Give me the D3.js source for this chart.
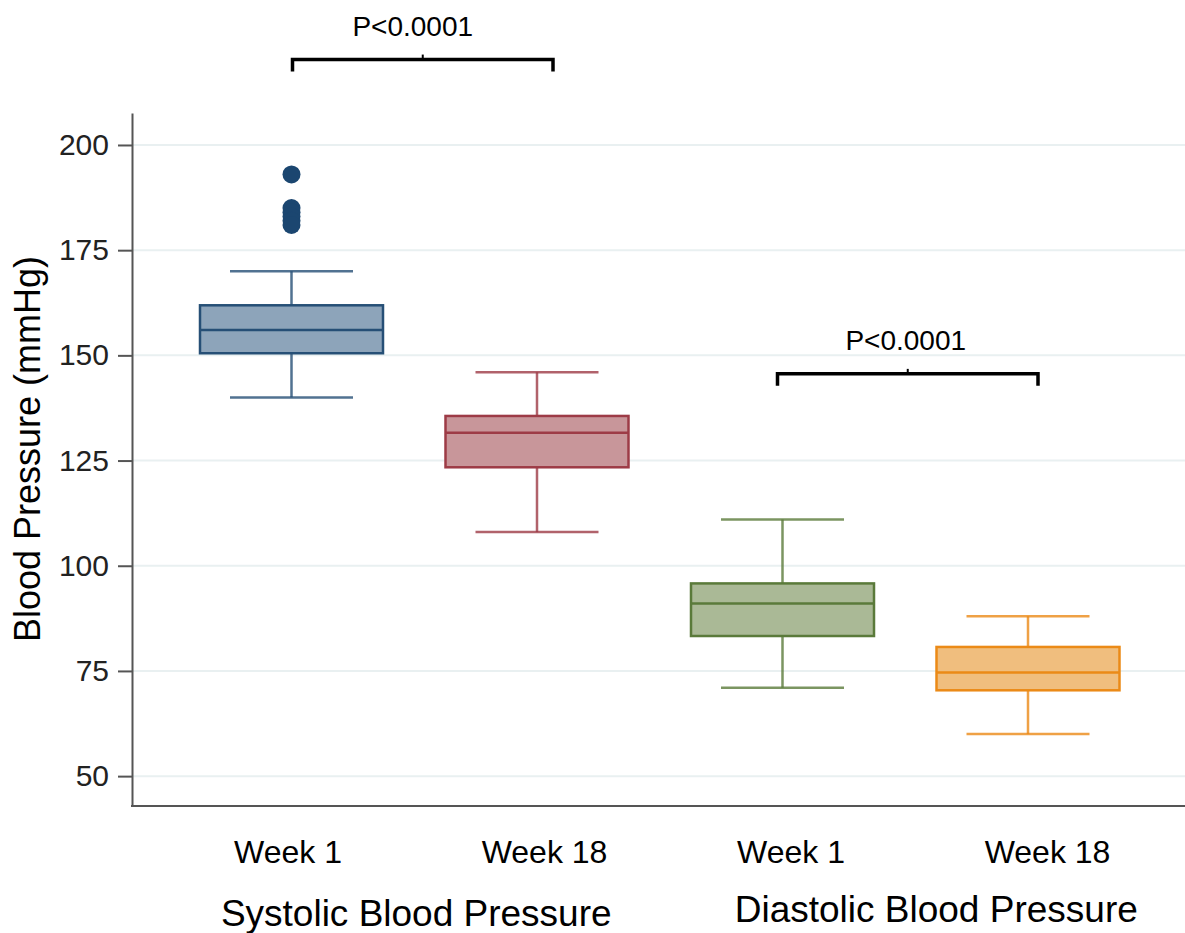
<!DOCTYPE html>
<html>
<head>
<meta charset="utf-8">
<script src="https://cdn.jsdelivr.net/npm/d3@7"></script>
<style>
  html, body { margin: 0; padding: 0; background: #fff; }
  svg { display: block; font-family: "Liberation Sans", Arial, sans-serif; }
</style>
</head>
<body>
<svg id="chart" width="1185" height="933"></svg>
<script>
// ---- data ----
const categories = ["SBP Week 1", "SBP Week 18", "DBP Week 1", "DBP Week 18"];
const tickLabels = ["Week 1", "Week 18", "Week 1", "Week 18"];
const groups = ["Systolic Blood Pressure", "Diastolic Blood Pressure"];
const whiskerLow = [140, 108, 71, 60];
const q1 = [150.5, 123.4, 83.3, 70.4];
const median = [156, 131.6, 91, 74.6];
const q3 = [161.9, 135.6, 95.8, 80.7];
const whiskerHigh = [170, 146, 111, 88];
const outliers = [[193, 185, 184, 183, 182, 181], [], [], []];
const yTicks = [50, 75, 100, 125, 150, 175, 200];
const comparisons = [
  { from: 0, to: 1, label: "P<0.0001", level: 220.3 },
  { from: 2, to: 3, label: "P<0.0001", level: 145.6 }
];

// ---- style ----
const fills = ["#8da4ba", "#c8969a", "#aab996", "#f0be7e"];
const strokes = ["#264f76", "#9d3b46", "#5a7a3a", "#eb8a17"];
const outlierColor = "#1b4670";

const svg = d3.select("#chart");
const W = 1185;
const plotLeft = 132, plotBottom = 806, plotTop = 113;

const y = d3.scaleLinear().domain([42.9, 207.6]).range([plotBottom, plotTop]);
const x = d3.scalePoint().domain(categories).range([291.5, 1028]);
const boxW = 183, capW = 123;

// gridlines
svg.append("g").selectAll("line").data(yTicks).join("line")
  .attr("x1", plotLeft).attr("x2", W)
  .attr("y1", d => y(d)).attr("y2", d => y(d))
  .attr("stroke", "#e9f0f1").attr("stroke-width", 2);

// y axis
const yAxis = svg.append("g").attr("transform", `translate(${plotLeft},0)`)
  .call(d3.axisLeft(y).tickValues(yTicks).tickSize(14).tickPadding(9).tickSizeOuter(0));
yAxis.select(".domain").attr("stroke", "#555").attr("stroke-width", 2);
yAxis.selectAll(".tick line").attr("stroke", "#555").attr("stroke-width", 2);
yAxis.selectAll(".tick text").attr("font-size", 30).attr("fill", "#222")
  .attr("font-family", "Liberation Sans, Arial, sans-serif");

// x axis baseline
svg.append("line").attr("x1", plotLeft - 1).attr("x2", W)
  .attr("y1", plotBottom).attr("y2", plotBottom)
  .attr("stroke", "#555").attr("stroke-width", 2);

// x tick labels via axis
const labelShift = [-4, 7, 8, 19];
const xAxis = svg.append("g").attr("transform", `translate(0,${plotBottom})`)
  .call(d3.axisBottom(x).tickSize(0).tickFormat((d, i) => tickLabels[i]));
xAxis.select(".domain").remove();
xAxis.selectAll(".tick text")
  .attr("font-size", 32).attr("fill", "#000")
  .attr("font-family", "Liberation Sans, Arial, sans-serif")
  .attr("dy", null).attr("y", 57)
  .attr("x", (d, i) => labelShift[i]);

// group labels
const groupCenters = [
  (x(categories[0]) + x(categories[1])) / 2 + 2,
  (x(categories[2]) + x(categories[3])) / 2 + 31
];
const groupBase = [926, 922];
svg.append("g").selectAll("text").data(groups).join("text")
  .attr("x", (d, i) => groupCenters[i]).attr("y", (d, i) => groupBase[i])
  .attr("text-anchor", "middle").attr("font-size", 37).attr("fill", "#000")
  .text(d => d);

// y axis title
svg.append("text")
  .attr("transform", `translate(40,449) rotate(-90)`)
  .attr("text-anchor", "middle").attr("font-size", 36).attr("fill", "#000")
  .text("Blood Pressure (mmHg)");

// boxes
const boxes = svg.append("g").selectAll("g").data(categories).join("g");
boxes.each(function(c, i) {
  const g = d3.select(this);
  const cx = x(c);
  // whiskers
  g.append("line").attr("x1", cx).attr("x2", cx)
    .attr("y1", y(whiskerHigh[i])).attr("y2", y(q3[i]))
    .attr("stroke", strokes[i]).attr("stroke-width", 2.5).attr("stroke-opacity", 0.8);
  g.append("line").attr("x1", cx).attr("x2", cx)
    .attr("y1", y(q1[i])).attr("y2", y(whiskerLow[i]))
    .attr("stroke", strokes[i]).attr("stroke-width", 2.5).attr("stroke-opacity", 0.8);
  g.append("line").attr("x1", cx - capW / 2).attr("x2", cx + capW / 2)
    .attr("y1", y(whiskerHigh[i])).attr("y2", y(whiskerHigh[i]))
    .attr("stroke", strokes[i]).attr("stroke-width", 2.5).attr("stroke-opacity", 0.8);
  g.append("line").attr("x1", cx - capW / 2).attr("x2", cx + capW / 2)
    .attr("y1", y(whiskerLow[i])).attr("y2", y(whiskerLow[i]))
    .attr("stroke", strokes[i]).attr("stroke-width", 2.5).attr("stroke-opacity", 0.8);
  // box
  g.append("rect").attr("x", cx - boxW / 2).attr("width", boxW)
    .attr("y", y(q3[i])).attr("height", y(q1[i]) - y(q3[i]))
    .attr("fill", fills[i]).attr("stroke", strokes[i]).attr("stroke-width", 2.5);
  g.append("line").attr("x1", cx - boxW / 2).attr("x2", cx + boxW / 2)
    .attr("y1", y(median[i])).attr("y2", y(median[i]))
    .attr("stroke", strokes[i]).attr("stroke-width", 2.5);
  // outliers
  g.selectAll("circle").data(outliers[i]).join("circle")
    .attr("cx", cx).attr("cy", d => y(d)).attr("r", 9)
    .attr("fill", outlierColor);
});

// significance brackets
const textShift = [-10, -2];
const br = svg.append("g").selectAll("g").data(comparisons).join("g");
br.each(function(d, k) {
  const g = d3.select(this);
  const x1 = x(categories[d.from]) + (k === 0 ? 1 : -5);
  const x2 = x(categories[d.to]) + (k === 0 ? 16 : 10);
  const yl = y(d.level);
  g.append("path")
    .attr("d", `M${x1},${yl + 12}V${yl}H${x2}V${yl + 12}`)
    .attr("fill", "none").attr("stroke", "#000").attr("stroke-width", 3.5);
  const mx = (x1 + x2) / 2;
  g.append("line").attr("x1", mx).attr("x2", mx).attr("y1", yl - 5).attr("y2", yl)
    .attr("stroke", "#000").attr("stroke-width", 2);
  g.append("text").attr("x", mx + textShift[k]).attr("y", yl - 24)
    .attr("text-anchor", "middle").attr("font-size", 28).attr("fill", "#000")
    .text(d.label);
});
</script>
</body>
</html>
